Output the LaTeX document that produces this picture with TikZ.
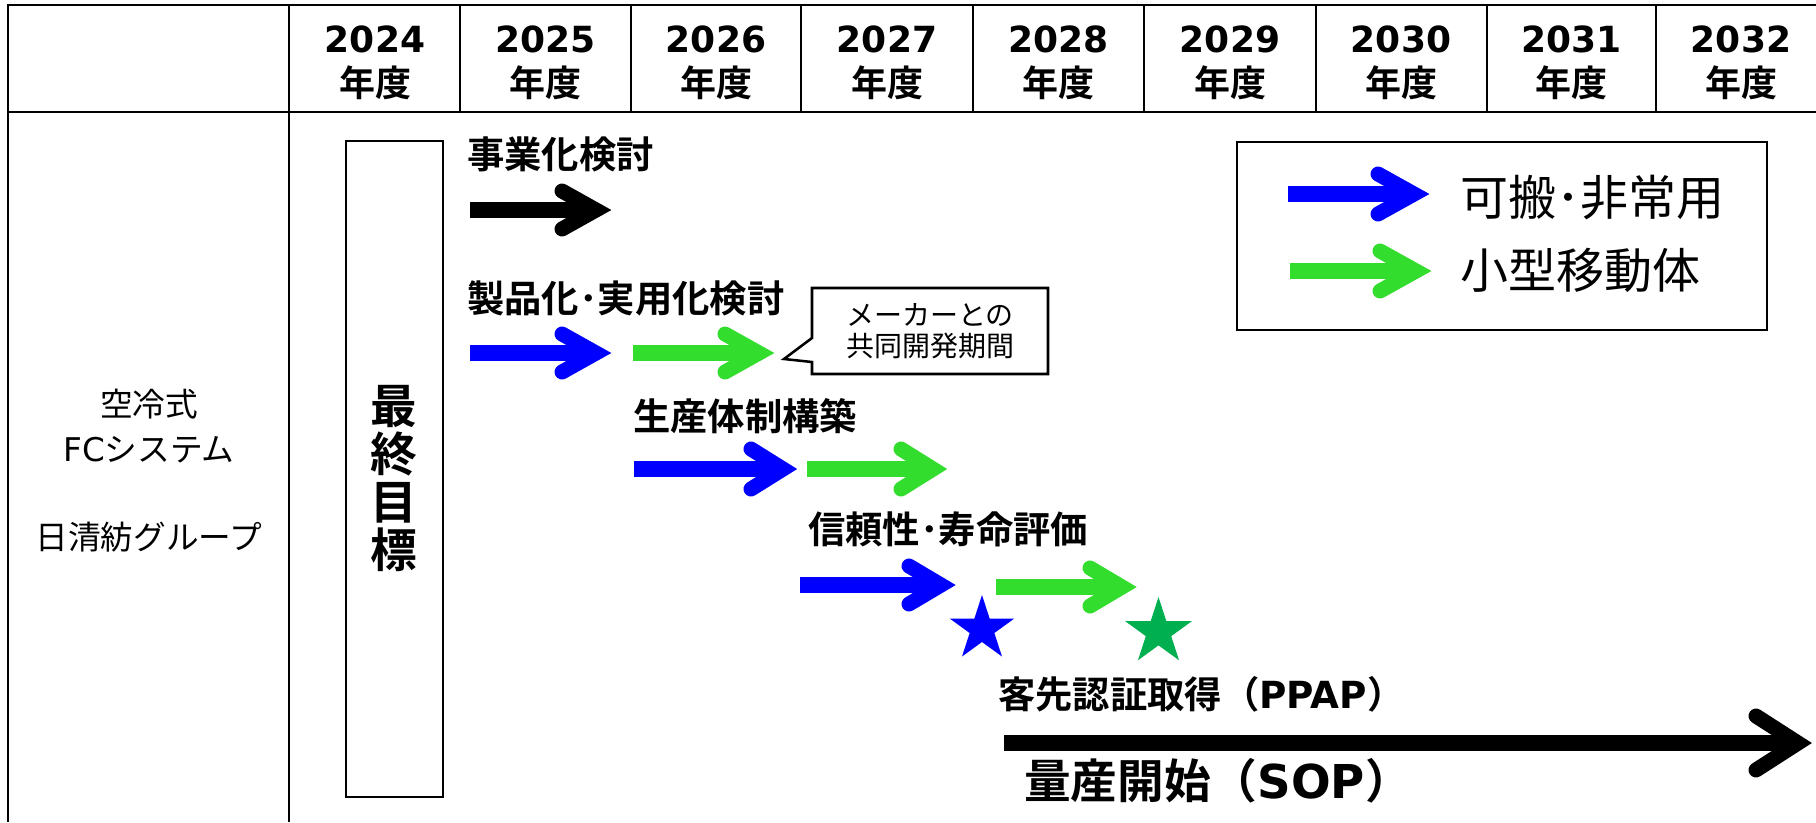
\documentclass[tikz,border=0pt]{standalone}
\usepackage{fontspec}
\setmainfont{DejaVu Sans}
\newfontfamily\jp{Noto Sans CJK JP}[BoldFont={Noto Sans CJK JP Bold}]
\usetikzlibrary{shapes.geometric,shapes.callouts}
\definecolor{arrgreen}{RGB}{50,221,45}
\definecolor{stargreen}{RGB}{0,176,80}
\newcommand\fatarrow[7]{%
  \coordinate (#1-s) at (#3,#5);
  \coordinate (#1-t) at (#4,#5);
  \draw[#2, shaft] (#1-s) -- ([xshift=-12pt]#1-t);
  \draw[#2, chev] ([shift={(-16-#6,-#7)}]#1-t) -- ([shift={(-16,0)}]#1-t) -- ([shift={(-16-#6,#7)}]#1-t);
}
\begin{document}
\begin{tikzpicture}[x=0.75pt,y=-0.75pt,
  grid/.style={line width=1.9pt},
  year/.style={font=\bfseries\fontsize{27pt}{33pt}\selectfont, align=center, inner sep=0pt},
  lbl/.style={font=\bfseries\fontsize{28pt}{30pt}\selectfont, anchor=west, inner sep=0pt},
  side/.style={font=\fontsize{24.5pt}{28pt}\selectfont, inner sep=0pt},
  legtext/.style={font=\jp\fontsize{36pt}{40pt}\selectfont, anchor=west, inner sep=0pt},
  shaft/.style={line width=12pt, line cap=butt},
  chev/.style={line width=11.25pt, line cap=round, line join=miter},
  stardot/.style={star, star points=5, star point ratio=2.618, inner sep=0pt, draw=none}]
\useasboundingbox (0,0) rectangle (1816,822);
\fill[white] (0,0) rectangle (1816,822);
% table
\draw[grid] (7,5) -- (1816,5);
\draw[grid] (7,112) -- (1816,112);
\draw[grid] (8,4) -- (8,822);
\draw[grid] (289,4) -- (289,822);
\foreach \x in {460,631,801,973,1144,1316,1487,1656} \draw[grid] (\x,5) -- (\x,112);
\foreach \yr/\x in {2024/375,2025/545.5,2026/716,2027/887,2028/1058.5,2029/1230,2030/1401,2031/1571.5,2032/1741}
  \node[year] (y\yr) at (\x,63) {\yr\\{\jp 年度}};
% left column
\node[side] (s1) at (149,404) {{\jp 空冷式}};
\node[side] (s2) at (149,450) {FC{\jp システム}};
\node[side] (s3) at (149,537) {{\jp 日清紡グループ}};
% goal box
\node[draw, line width=1.3pt, minimum width=72.75pt, minimum height=492pt, inner sep=0pt] (goal) at (394.5,469) {};
\node[font=\jp\bfseries\fontsize{35pt}{36pt}\selectfont, align=center, inner sep=0pt] (goaltext) at (394,479) {最\\終\\目\\標};
% labels
\node[lbl] (l1) at (467,154) {{\jp 事業化検討}};
\node[lbl] (l2) at (467,298) {{\jp 製品化･実用化検討}};
\node[lbl] (l3) at (633,416) {{\jp 生産体制構築}};
\node[lbl] (l4) at (808,529) {{\jp 信頼性･寿命評価}};
\node[lbl, font=\bfseries\fontsize{28pt}{30pt}\selectfont] (l5) at (998,694) {{\jp 客先認証取得（}PPAP{\jp ）}};
\node[lbl, font=\bfseries\fontsize{35pt}{38pt}\selectfont] (l6) at (1024,781) {{\jp 量産開始（}SOP{\jp ）}};
% arrows
\fatarrow{a1}{black}{470}{612}{210}{34}{19}
\fatarrow{a2b}{blue}{470}{612}{353}{34}{19}
\fatarrow{a2g}{arrgreen}{633}{775}{353}{34}{19}
\fatarrow{a3b}{blue}{634}{799}{469}{32}{20}
\fatarrow{a3g}{arrgreen}{807}{949}{469}{32}{20}
\fatarrow{a4b}{blue}{800}{957}{585}{32}{19}
\fatarrow{a4g}{arrgreen}{996}{1138}{587}{32}{19}
\fatarrow{sop}{black}{1004}{1814}{743}{42}{27}
% stars
\node[stardot, fill=blue, minimum size=51pt] (st1) at (982,629) {};
\node[stardot, fill=stargreen, minimum size=52.5pt] (st2) at (1158.5,632) {};
% callout
\node[rectangle callout, draw, line width=1.9pt, fill=white, callout absolute pointer={(784,359)}, callout pointer width=18pt, minimum width=177pt, minimum height=64.5pt, inner sep=0pt, align=center, font=\jp\fontsize{21pt}{23.25pt}\selectfont] (note) at (930,331) {メーカーとの\\共同開発期間};
% legend
\node[draw, line width=2.2pt, minimum width=397.5pt, minimum height=141pt, inner sep=0pt] (legend) at (1502,236) {};
\fatarrow{lb}{blue}{1288}{1430}{194}{36}{20}
\fatarrow{lg}{arrgreen}{1290}{1432}{271}{36}{20}
\node[legtext] (lt1) at (1460,197) {可搬･非常用};
\node[legtext] (lt2) at (1460,270) {小型移動体};
\end{tikzpicture}
\end{document}
